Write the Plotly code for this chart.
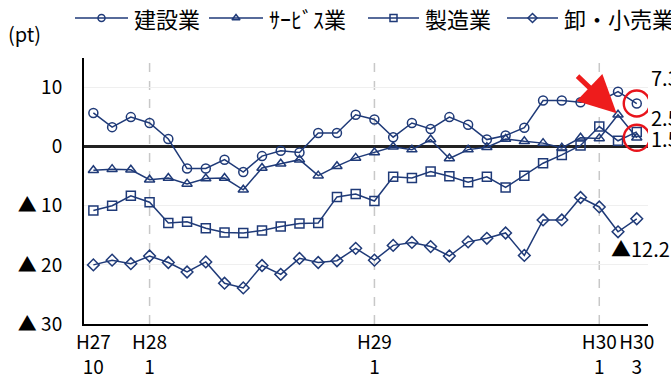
import plotly.graph_objects as go

# x positions: monthly from H27/10 to H30/3
months = ["H27/10","H27/11","H27/12","H28/1","H28/2","H28/3","H28/4","H28/5","H28/6","H28/7",
          "H28/8","H28/9","H28/10","H28/11","H28/12","H29/1","H29/2","H29/3","H29/4","H29/5",
          "H29/6","H29/7","H29/8","H29/9","H29/10","H29/11","H29/12","H30/1","H30/2","H30/3"]

construction = [5.7, 3.3, 5.0, 4.0, 1.3, -3.7, -3.7, -2.2, -4.3, -1.6,
                -0.7, -1.0, 2.3, 2.3, 5.4, 4.6, 1.6, 4.0, 3.0, 5.0,
                3.7, 1.2, 1.9, 3.2, 7.8, 7.8, 7.5, 7.7, 9.3, 7.3]
services = [-4.0, -3.8, -3.9, -5.6, -5.3, -6.3, -5.4, -5.3, -7.3, -3.6,
            -2.9, -2.2, -4.9, -3.3, -1.9, -1.0, 0.0, -0.5, 1.2, -2.0,
            -0.5, -0.1, 1.3, 0.9, 0.6, -0.2, 1.5, 1.4, 5.4, 1.5]
manufacturing = [-10.8, -10.0, -8.3, -9.4, -12.9, -12.7, -13.8, -14.5, -14.6, -14.2,
                 -13.5, -13.0, -12.9, -8.5, -8.0, -9.2, -5.1, -5.3, -4.2, -5.0,
                 -6.0, -5.1, -6.9, -4.9, -2.8, -1.4, 0.2, 3.4, 1.0, 2.5]
wholesale = [-20.0, -19.2, -19.8, -18.5, -19.6, -21.2, -19.5, -23.1, -23.9, -20.1,
             -21.6, -18.9, -19.6, -19.3, -17.2, -19.2, -16.7, -16.2, -16.9, -18.5,
             -16.1, -15.5, -14.6, -18.4, -12.4, -12.4, -8.6, -10.2, -14.4, -12.2]

series_names = ["建設業", "ｻｰﾋﾞｽ業", "製造業", "卸・小売業"]
series_symbols = ["circle-open", "triangle-up-open", "square-open", "diamond-open"]

y_tickvals = [10, 0, -10, -20, -30]
y_ticktext = ["10", "0", "▲ 10", "▲ 20", "▲ 30"]

x_tick_idx = [0, 3, 15, 27, 29]
x_ticktext = ["H27<br>10", "H28<br>1", "H29<br>1", "H30<br>1", "H30<br>3"]

# legend layout in figure pixels: (sample line start, sample line end)
legend_samples = [(75, 128), (209, 263), (368, 419), (507, 558)]
LEGEND_Y = 18

W, H = 671, 381
PLOT_L, PLOT_R, PLOT_T, PLOT_B = 84, 648, 58, 324

NAVY = "#1f3a78"
FONT = "Noto Sans CJK JP"

x = list(range(len(months)))
fig = go.Figure()
for name, vals, sym in zip(series_names, [construction, services, manufacturing, wholesale], series_symbols):
    fig.add_trace(go.Scatter(
        x=x, y=vals, name=name, mode="lines+markers", showlegend=False,
        line=dict(color=NAVY, width=1.5),
        marker=dict(symbol=sym, size=9, color=NAVY, line=dict(color=NAVY, width=1.5)),
        xaxis="x", yaxis="y", cliponaxis=False,
    ))

# custom legend on a pixel-unit overlay axis
for name, sym, (x0, x1) in zip(series_names, series_symbols, legend_samples):
    fig.add_trace(go.Scatter(x=[x0, x1], y=[LEGEND_Y, LEGEND_Y], mode="lines", showlegend=False,
                             line=dict(color=NAVY, width=1.5), xaxis="x2", yaxis="y2", hoverinfo="skip"))
    fig.add_trace(go.Scatter(x=[(x0 + x1) / 2], y=[LEGEND_Y], mode="markers", showlegend=False,
                             marker=dict(symbol=sym, size=7, color=NAVY, line=dict(color=NAVY, width=1.5)),
                             xaxis="x2", yaxis="y2", hoverinfo="skip"))
    fig.add_annotation(xref="x2", yref="y2", x=x1 + 4, y=LEGEND_Y, text=name, showarrow=False,
                       xanchor="left", yanchor="middle", font=dict(family=FONT, size=22, color="black"))

# dashed vertical lines at January of each year
for i, m in enumerate(months):
    if m.endswith("/1"):
        fig.add_shape(type="line", xref="x", yref="y domain", x0=i, x1=i, y0=0, y1=1,
                      line=dict(color="#c8c8c8", width=1.5, dash="dash"), layer="below")

last = len(months) - 1

def fmt(v):
    return f"▲{abs(v):.1f}" if v < 0 else f"{v:.1f}"

# red circles around highlighted last points
for vals in [construction, services]:
    fig.add_shape(type="circle", xref="x", yref="y", xsizemode="pixel", ysizemode="pixel",
                  xanchor=last, yanchor=vals[last], x0=-13, x1=13, y0=-13, y1=13,
                  line=dict(color="#e8141c", width=2.4))

# end labels
for vals, xs, ys in [(construction, 12, 26), (manufacturing, 12, 14), (services, 12, -1), (wholesale, -28, -30)]:
    fig.add_annotation(x=last, y=vals[last], text=fmt(vals[last]), showarrow=False,
                       xref="x", yref="y",
                       xanchor="left", yanchor="middle", xshift=xs, yshift=ys,
                       font=dict(family=FONT, size=20, color="black"))

# red arrow to service-sector peak
fig.add_annotation(x=last - 1, y=services[last - 1], ax=-42, ay=-40, xref="x", yref="y",
                   showarrow=True, arrowhead=2, arrowsize=1.5, arrowwidth=5, arrowcolor="#ee1c1c",
                   standoff=2, text="")

fig.add_annotation(xref="x2", yref="y2", x=6, y=33, text="(pt)", showarrow=False,
                   xanchor="left", yanchor="middle", font=dict(family=FONT, size=20, color="black"))

fig.update_layout(
    width=W, height=H,
    margin=dict(l=0, r=0, t=0, b=0, autoexpand=False),
    paper_bgcolor="white", plot_bgcolor="rgba(0,0,0,0)",
    font=dict(family=FONT, size=19, color="black"),
    showlegend=False,
    xaxis=dict(domain=[PLOT_L / W, PLOT_R / W], anchor="y", automargin=False,
               range=[-0.5, 29.6], tickvals=x_tick_idx, ticktext=x_ticktext, tickangle=0,
               showgrid=False, zeroline=False, showline=True, linecolor="black", linewidth=2,
               ticks="", ticklabelstandoff=0,
               tickfont=dict(family=FONT, size=19, color="black")),
    yaxis=dict(domain=[(H - PLOT_B) / H, (H - PLOT_T) / H], anchor="x", automargin=False,
               range=[-30, 15], tickvals=y_tickvals, ticktext=y_ticktext,
               showgrid=True, gridcolor="#efefef", gridwidth=1,
               zeroline=True, zerolinecolor="#222222", zerolinewidth=2.5,
               showline=True, linecolor="black", linewidth=2, ticks="",
               ticklabelstandoff=16,
               tickfont=dict(family=FONT, size=19, color="black")),
    xaxis2=dict(domain=[0, 1], anchor="y2", range=[0, W], visible=False, fixedrange=True, automargin=False),
    yaxis2=dict(domain=[0, 1], anchor="x2", range=[H, 0], visible=False, fixedrange=True, automargin=False),
)

fig.write_html("out.html")
